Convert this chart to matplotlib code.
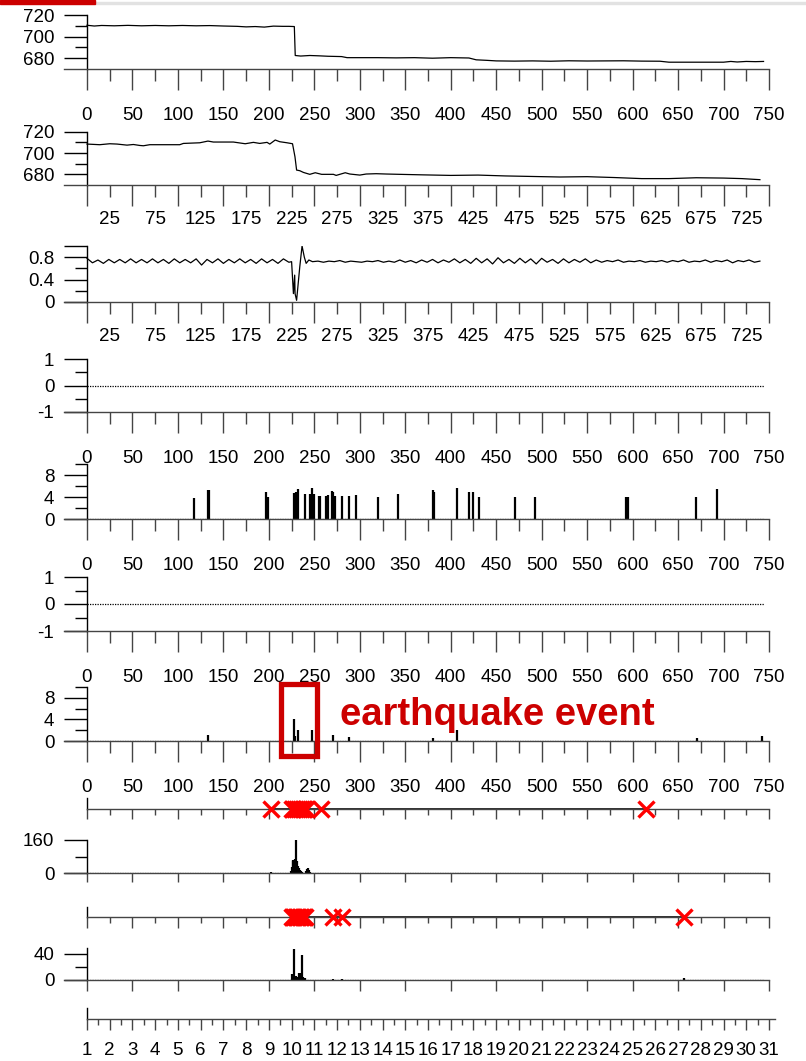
import numpy as np
import matplotlib.pyplot as plt
from matplotlib.patches import Rectangle

plt.rcParams['font.family'] = ['Liberation Sans', 'DejaVu Sans']

# ---------------- data ----------------
# panel 1: raw level
p1_x = [0, 8, 16, 30, 45, 60, 75, 90, 105, 120, 135, 150, 165, 175, 185, 195, 205, 215, 222, 228,
        229, 235, 245, 255, 265, 280, 286, 300, 320, 340, 360, 380, 400, 420, 428, 440, 450, 470, 490, 510,
        530, 550, 570, 590, 610, 630, 640, 660, 680, 700, 708, 715, 725, 735, 744]
p1_y = [710.5, 709.8, 710.3, 710.0, 710.4, 710.0, 710.3, 710.0, 710.3, 710.0,
        710.2, 709.8, 709.5, 709.0, 709.3, 708.8, 709.7, 709.5, 709.5, 709.3,
        682.5, 682.0, 682.5, 682.2, 681.8, 681.5, 680.5, 680.5, 680.5, 680.3,
        680.5, 680.0, 680.5, 680.2, 678.5, 678.0, 677.5, 677.3, 677.5, 677.2,
        677.6, 677.4, 677.5, 677.6, 677.3, 677.2, 676.3, 676.3, 676.3, 676.3,
        677.0, 676.5, 677.0, 676.8, 677.0]

# panel 2: second level series
p2_x = [0, 14, 25, 33, 44, 51, 58, 62, 69, 102, 106, 124, 133, 139, 154, 161, 174, 183, 190, 198,
        201, 207, 212, 220, 226, 228.7, 230.5, 234, 238, 245, 251, 258, 271, 274, 284, 289, 300, 307, 318, 329,
        344, 370, 400, 430, 460, 490, 520, 550, 580, 610, 640, 670, 700, 720, 740]
p2_y = [708.4, 707.8, 708.7, 708.4, 707.4, 708.0, 707.1, 706.8, 707.8, 707.8,
        709.0, 709.6, 711.2, 710.3, 710.3, 710.3, 708.7, 710.0, 709.0, 710.0,
        708.4, 712.2, 710.6, 709.6, 708.7, 696.5, 684.0, 683.4, 681.8, 680.0,
        681.5, 680.0, 680.0, 679.0, 681.5, 680.3, 679.3, 680.3, 680.6, 680.3,
        680.0, 679.5, 679.0, 679.3, 678.5, 678.0, 677.5, 677.8, 677.0, 676.0,
        676.0, 676.8, 676.5, 676.0, 675.0]

# panel 3: ratio series
p3_x = np.r_[np.arange(0, 223, 6),
             [225, 227, 228.4, 228.8, 230.5, 234, 236.5, 239, 241, 244],
             np.arange(248, 745, 6)]
p3_y = [0.78, 0.70, 0.75, 0.69, 0.76, 0.70, 0.76, 0.70, 0.77, 0.70,
        0.76, 0.70, 0.77, 0.70, 0.76, 0.69, 0.77, 0.70, 0.76, 0.70,
        0.77, 0.66, 0.76, 0.70, 0.77, 0.69, 0.76, 0.70, 0.77, 0.70,
        0.76, 0.69, 0.77, 0.70, 0.76, 0.69, 0.77, 0.71,
        0.72, 0.15, 0.48, 0.15, 0.03, 0.63, 1.00, 0.80, 0.69, 0.75,
        0.72, 0.73, 0.71, 0.73, 0.72, 0.74, 0.71, 0.73, 0.72, 0.71, 0.73, 0.72, 0.74, 0.71,
        0.73, 0.71, 0.75, 0.71, 0.74, 0.70, 0.75, 0.71, 0.76, 0.70, 0.75, 0.71,
        0.77, 0.70, 0.76, 0.69, 0.78, 0.70, 0.77, 0.68, 0.79, 0.70, 0.76, 0.69, 0.78, 0.70,
        0.77, 0.68, 0.78, 0.71, 0.76, 0.69, 0.77, 0.70, 0.76, 0.71, 0.77, 0.70, 0.75,
        0.71, 0.74, 0.72, 0.75, 0.71, 0.73, 0.72, 0.74, 0.71, 0.73, 0.72, 0.74, 0.71, 0.74, 0.72,
        0.75, 0.71, 0.73, 0.72, 0.75, 0.71, 0.74, 0.72, 0.75, 0.70, 0.74, 0.72, 0.75, 0.71, 0.73]

# panel 5: anomaly scores
p5_x = [117.7, 133.0, 134.2, 196.9, 199.0, 227.6, 229.5, 231.7, 239.7, 245.3, 247.8, 250.0,
        255.2, 256.3, 262.8, 265.4, 269.1, 270.9, 272.7, 280.8, 288.5, 295.5, 319.7, 342.4,
        380.9, 382.0, 407.3, 420.5, 424.2, 431.5, 470.7, 492.7, 592.8, 594.6, 669.7, 692.5]
p5_h = [3.8, 5.3, 5.3, 5.0, 4.0, 4.7, 5.0, 5.45, 4.5, 4.5, 5.7, 4.5,
        4.1, 4.1, 4.1, 4.4, 5.15, 4.9, 4.1, 4.1, 4.1, 4.3, 4.0, 4.5,
        5.2, 4.9, 5.6, 4.85, 4.9, 4.0, 4.0, 4.0, 4.0, 4.0, 4.0, 5.45]

# panel 7: filtered scores
p7_x = [133.4, 227.6, 228.5, 231.7, 247.8, 270.2, 288.5, 380.9, 407.3, 671, 742]
p7_h = [1.05, 4.1, 1.0, 2.0, 2.1, 1.05, 0.7, 0.6, 2.1, 0.5, 1.0]

# panel 8 / 9: detected events and counts
p8_events = [202, 225, 227, 229, 231, 233, 235, 237, 239, 241, 257, 615]
p9_x = [202, 224, 225, 226, 227, 228, 229, 230, 231, 232, 233, 234, 235, 236, 241, 242, 243, 244, 245]
p9_h = [5, 10, 30, 62, 60, 55, 70, 160, 60, 35, 25, 15, 8, 4, 10, 20, 22, 15, 6]

# panel 10 / 11: second station events and counts
p10_events = [225, 226.5, 228, 229.5, 231, 232.5, 234, 235.5, 237, 238.5, 240, 271, 280, 657]
p11_x = [225, 226.5, 228, 230, 231.7, 233.5, 235.3, 236.1, 237.9, 239.7, 270.9, 280.8, 657]
p11_h = [9.2, 4, 47, 6, 5, 11, 11, 38, 4, 3.6, 2, 2, 3.6]

x_labels_a = [str(v) for v in range(0, 751, 50)]
x_labels_b = [str(v) for v in range(25, 726, 50)]
day_labels = [str(d) for d in range(1, 32)]

# ---------------- layout ----------------
W, H, DPI = 806, 1061, 100
fig = plt.figure(figsize=(W / DPI, H / DPI), dpi=DPI)

X0, X1 = 87, 769
PX = (X1 - X0) / 750
XL = -(X0 - 64) / PX
XR = 750 + (775 - X1) / PX
AXC = '#444444'
FS = 13.5
P = 0.72  # px -> pt


def make_ax(top, bottom, ylim, ext=True):
    ax = fig.add_axes([64 / W, 1 - bottom / H, (775 - 64) / W, (bottom - top) / H])
    ax.set_xlim(XL, XR)
    ax.set_ylim(*ylim)
    ax.patch.set_visible(False)
    ax.spines['top'].set_visible(False)
    ax.spines['right'].set_visible(False)
    ax.spines['left'].set_position(('data', 0))
    ax.spines['left'].set_linewidth(1)
    ax.spines['bottom'].set_color(AXC)
    ax.spines['bottom'].set_linewidth(1)
    ax.spines['bottom'].set_bounds(XL if ext else 0, 750)
    ax.tick_params(axis='y', which='major', length=23 * P, width=1, pad=7, labelsize=FS)
    ax.tick_params(axis='y', which='minor', length=12 * P, width=1)
    return ax


def x_ticks(ax, labels='a', maj=21, mnr=12, step=25):
    major = np.arange(0, 751, 2 * step)
    minor = np.arange(step, 750, 2 * step)
    ax.set_xticks(major)
    ax.set_xticks(minor, minor=True)
    if labels == 'a':
        ax.set_xticklabels(x_labels_a)
    else:
        ax.set_xticklabels([])
    if labels == 'b':
        ax.set_xticklabels(x_labels_b, minor=True)
    ax.tick_params(axis='x', which='major', length=maj * P, width=1, color=AXC,
                   pad=(12.5 if labels == 'a' else 0), labelsize=FS)
    ax.tick_params(axis='x', which='minor', length=mnr * P, width=1, color=AXC,
                   pad=10, labelsize=FS)


def y_ticks(ax, major, minor, labels=None):
    ax.set_yticks(major)
    ax.set_yticks(minor, minor=True)
    ax.set_yticklabels(labels if labels else [f'{v:g}' for v in major])


def baseline(ax, y=0):
    ax.plot([0, 744], [y, y], color='black', lw=0.9, ls=(0, (1, 1)))


# top strip (screen capture edge)
fig.patches.append(Rectangle((95 / W, 1 - 4 / H), 1 - 95 / W, 2 / H, transform=fig.transFigure,
                             color='#e2e2e2', zorder=0))
fig.patches.append(Rectangle((0, 1 - 4 / H), 95 / W, 4 / H, transform=fig.transFigure,
                             color='#cc0000', zorder=1))

# panel 1
ax = make_ax(15, 69, (670, 720))
ax.plot(p1_x, p1_y, color='black', lw=0.9)
y_ticks(ax, [680, 700, 720], [690, 710])
x_ticks(ax, 'a')

# panel 2
ax = make_ax(131.7, 185, (670, 720))
ax.plot(p2_x, p2_y, color='black', lw=0.9)
y_ticks(ax, [680, 700, 720], [690, 710])
x_ticks(ax, 'b')

# panel 3
ax = make_ax(246, 302, (0, 1.0))
ax.plot(p3_x, p3_y, color='black', lw=0.9)
y_ticks(ax, [0, 0.4, 0.8, 1.0], [0.2, 0.6], ['0', '0.4', '0.8', ''])
x_ticks(ax, 'b')

# panel 4
ax = make_ax(359, 412, (-1, 1))
baseline(ax)
y_ticks(ax, [-1, 0, 1], [-0.5, 0.5])
x_ticks(ax, 'a')

# panel 5
ax = make_ax(464, 519, (0, 10))
baseline(ax)
ax.vlines(p5_x, 0, p5_h, color='black', lw=1.6)
y_ticks(ax, [0, 4, 8], [2, 6, 10])
x_ticks(ax, 'a')

# panel 6
ax = make_ax(577, 631, (-1, 1))
baseline(ax)
y_ticks(ax, [-1, 0, 1], [-0.5, 0.5])
x_ticks(ax, 'a')

# panel 7
ax = make_ax(687, 741, (0, 10))
baseline(ax)
ax.vlines(p7_x, 0, p7_h, color='black', lw=1.6)
y_ticks(ax, [0, 4, 8], [2, 6, 10])
x_ticks(ax, 'a')
ax.add_patch(Rectangle((213.5, -2.8), 39, 13.35, fill=False, ec='#cc0000', lw=3.8, clip_on=False, zorder=5))
ax.text(278, 4.8, 'earthquake event', color='#cc0000', fontsize=27.5, fontweight='bold',
        ha='left', va='center')

# panel 8
ax = make_ax(798, 809, (0, 1), ext=False)
ax.set_yticks([])
ax.plot([min(p8_events), max(p8_events)], [0, 0], color='black', lw=1.8, zorder=3)
ax.plot(p8_events, np.zeros(len(p8_events)), ls='none', marker='x', ms=12, mew=2.4,
        color='#ff0000', clip_on=False, zorder=4)
x_ticks(ax, None, maj=10, mnr=6)

# panel 9
ax = make_ax(840, 873, (0, 160))
baseline(ax)
ax.vlines(p9_x, 0, p9_h, color='black', lw=1.6)
y_ticks(ax, [0, 160], [80])
x_ticks(ax, None, maj=9, mnr=0)

# panel 10
ax = make_ax(907, 917, (0, 1), ext=False)
ax.set_yticks([])
ax.plot([min(p10_events), max(p10_events)], [0, 0], color='black', lw=1.8, zorder=3)
ax.plot(p10_events, np.zeros(len(p10_events)), ls='none', marker='x', ms=12, mew=2.4,
        color='#ff0000', clip_on=False, zorder=4)
x_ticks(ax, None, maj=11, mnr=6)

# panel 11
ax = make_ax(947.5, 980, (0, 50))
baseline(ax)
ax.vlines(p11_x, 0, p11_h, color='black', lw=1.6)
y_ticks(ax, [0, 40], [20])
x_ticks(ax, None, maj=11, mnr=0)

# panel 12: day axis
ax = make_ax(1008, 1019, (0, 1), ext=False)
ax.spines['bottom'].set_bounds(0, XR)
ax.set_yticks([])
ax.set_xticks(np.arange(0, 751, 25))
ax.set_xticks(np.arange(12.5, 750, 25), minor=True)
ax.set_xticklabels(day_labels)
ax.tick_params(axis='x', which='major', length=11 * P, width=1, color=AXC, pad=8.5, labelsize=FS)
ax.tick_params(axis='x', which='minor', length=6 * P, width=1, color=AXC)

fig.savefig('out.png', dpi=DPI)
